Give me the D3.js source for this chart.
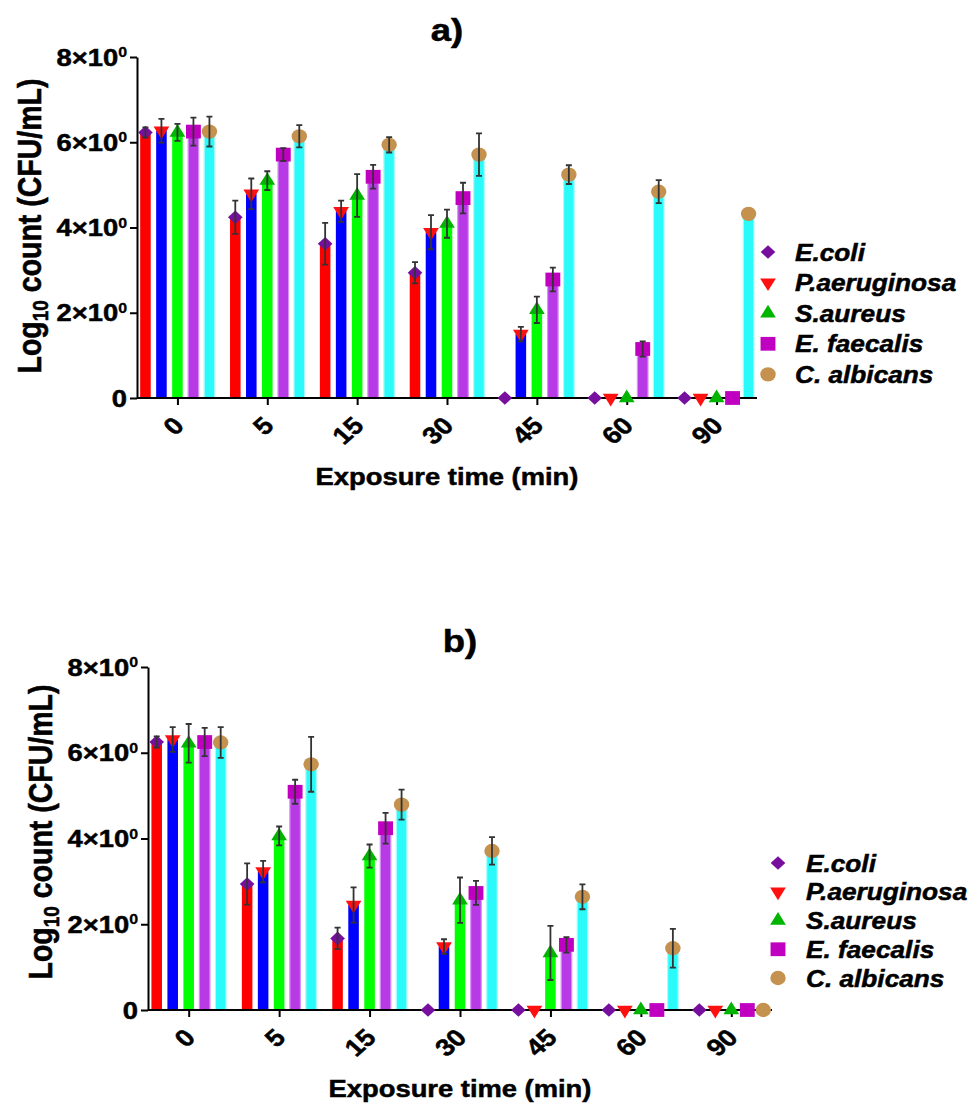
<!DOCTYPE html>
<html>
<head>
<meta charset="utf-8">
<script src="https://cdn.jsdelivr.net/npm/d3@7"></script>
<style>
  body { margin: 0; background: #fff; }
  svg { display: block; }
  text { font-family: "Liberation Sans", Arial, sans-serif; font-weight: bold; fill: #000; stroke: #000; stroke-width: 0.5px; }
</style>
</head>
<body>
<svg id="chart" width="976" height="1105"></svg>
<script>
// Categories
const times = ["0", "5", "15", "30", "45", "60", "90"];
const species = ["E.coli", "P.aeruginosa", "S.aureus", "E. faecalis", "C. albicans"];
const yTickValues = [0, 2, 4, 6, 8];

// Panel a) — mean log10 counts per species over exposure time
const aEcoli      = [6.23, 4.24, 3.62, 2.94, 0,    0,    0];
const aPaeru      = [6.27, 4.79, 4.38, 3.89, 1.50, 0,    0];
const aSaureus    = [6.23, 5.10, 4.75, 4.09, 2.07, 0,    0];
const aEfaecalis  = [6.25, 5.71, 5.19, 4.69, 2.78, 1.15, 0];
const aCalbicans  = [6.25, 6.14, 5.94, 5.71, 5.24, 4.84, 4.32];
// Panel a) — standard deviations
const aEcoliSd     = [0.12, 0.39, 0.49, 0.25, 0,    0,    0];
const aPaeruSd     = [0.28, 0.36, 0.25, 0.40, 0.17, 0,    0];
const aSaureusSd   = [0.20, 0.22, 0.50, 0.33, 0.31, 0,    0];
const aEfaecalisSd = [0.33, 0.15, 0.28, 0.36, 0.28, 0.18, 0];
const aCalbicansSd = [0.35, 0.26, 0.18, 0.50, 0.22, 0.27, 0];

// Panel b) — mean log10 counts
const bEcoli      = [6.25, 2.94, 1.67, 0,    0,    0,    0];
const bPaeru      = [6.31, 3.23, 2.45, 1.48, 0,    0,    0];
const bSaureus    = [6.22, 4.06, 3.59, 2.56, 1.33, 0,    0];
const bEfaecalis  = [6.25, 5.09, 4.24, 2.73, 1.52, 0,    0];
const bCalbicans  = [6.24, 5.73, 4.79, 3.71, 2.64, 1.44, 0];
// Panel b) — standard deviations
const bEcoliSd     = [0.13, 0.48, 0.25, 0,    0,    0,    0];
const bPaeruSd     = [0.29, 0.25, 0.41, 0.17, 0,    0,    0];
const bSaureusSd   = [0.45, 0.22, 0.27, 0.53, 0.63, 0,    0];
const bEfaecalisSd = [0.33, 0.28, 0.36, 0.28, 0.18, 0,    0];
const bCalbicansSd = [0.36, 0.64, 0.35, 0.32, 0.29, 0.45, 0];

// Styling
const barFill    = ["#ff0000", "#0000ff", "#00ff00", "#b83ae6", "#2afafa"];
const barStroke  = ["none", "none", "none", "#d592f3", "#a8fdfd"];
const markerFill = ["#760f9e", "#ff1010", "#00b400", "#c000c0", "#c4914f"];
const markerDefs = [
  { type: d3.symbolSquare,   size: 92,  rot: 45 },
  { type: d3.symbolTriangle, size: 92,  rot: 180 },
  { type: d3.symbolTriangle, size: 92,  rot: 0 },
  { type: d3.symbolSquare,   size: 190, rot: 0 },
  { type: d3.symbolCircle,   size: 160, rot: 0 }
];
const SX = 1.14; // horizontal text stretch

const panels = [
  {
    means: [aEcoli, aPaeru, aSaureus, aEfaecalis, aCalbicans],
    sds: [aEcoliSd, aPaeruSd, aSaureusSd, aEfaecalisSd, aCalbicansSd],
    label: "a)",
    layout: { x0: 137, x1: 757, yTop: 57, yBot: 398, titleX: 447, titleY: 41,
              legX: 768, legTextX: 795, legY0: 252, legStep: 30.6, yTitleX: 41, yTitleY: 226 }
  },
  {
    means: [bEcoli, bPaeru, bSaureus, bEfaecalis, bCalbicans],
    sds: [bEcoliSd, bPaeruSd, bSaureusSd, bEfaecalisSd, bCalbicansSd],
    label: "b)",
    layout: { x0: 148, x1: 772, yTop: 667, yBot: 1010, titleX: 460, titleY: 652,
              legX: 778, legTextX: 806, legY0: 863, legStep: 28.75, yTitleX: 52, yTitleY: 832 }
  }
];

const svg = d3.select("#chart");

function symbolPath(i) {
  return d3.symbol().type(markerDefs[i].type).size(markerDefs[i].size)();
}

panels.forEach(p => {
  const L = p.layout;
  const g = svg.append("g");

  const x = d3.scalePoint().domain(times).range([L.x0, L.x1]).padding(0.45);
  const inner = d3.scaleBand().domain(d3.range(species.length)).range([-40, 40])
    .paddingInner(0.34).paddingOuter(0.17);
  const y = d3.scaleLinear().domain([0, 8]).range([L.yBot, L.yTop]);

  // bars
  species.forEach((s, i) => {
    g.append("g").selectAll("rect")
      .data(p.means[i])
      .join("rect")
      .attr("x", (d, j) => x(times[j]) + inner(i))
      .attr("width", inner.bandwidth())
      .attr("y", d => y(d))
      .attr("height", d => y(0) - y(d))
      .attr("fill", barFill[i])
      .attr("stroke", d => d > 0 ? barStroke[i] : "none")
      .attr("stroke-width", 1.2);
  });

  // y axis
  const yAxis = g.append("g")
    .attr("transform", `translate(${L.x0},0)`)
    .call(d3.axisLeft(y).tickValues(yTickValues).tickSize(7).tickSizeOuter(0).tickFormat(""));
  yAxis.select(".domain").attr("stroke", "#000").attr("stroke-width", 2);
  yAxis.selectAll(".tick line").attr("stroke", "#000").attr("stroke-width", 2);

  yTickValues.forEach(v => {
    const t = g.append("text")
      .attr("transform", `translate(${L.x0 - 10},${y(v) + 8.5}) scale(${SX},1)`)
      .attr("text-anchor", "end")
      .style("font-size", "24px");
    if (v === 0) {
      t.text("0");
    } else {
      t.append("tspan").text(`${v}×10`);
      t.append("tspan").attr("dy", -8.5).style("font-size", "14px").style("stroke-width", "0.3px").text("0");
    }
  });

  // x axis
  const xAxis = g.append("g")
    .attr("transform", `translate(0,${L.yBot})`)
    .call(d3.axisBottom(x).tickSize(7).tickSizeOuter(0).tickFormat(""));
  xAxis.select(".domain").attr("stroke", "#000").attr("stroke-width", 2)
    .attr("d", `M${L.x0},0H${L.x1}`);
  xAxis.selectAll(".tick line").attr("stroke", "#000").attr("stroke-width", 2);

  times.forEach(t => {
    g.append("text")
      .attr("transform", `translate(${x(t) + 8},${L.yBot + 29}) scale(${SX},1) rotate(-45)`)
      .attr("text-anchor", "end")
      .style("font-size", "24px")
      .text(t);
  });

  // markers
  species.forEach((s, i) => {
    g.append("g").selectAll("path")
      .data(p.means[i])
      .join("path")
      .attr("d", symbolPath(i))
      .attr("transform", (d, j) =>
        `translate(${x(times[j]) + inner(i) + inner.bandwidth() / 2},${y(d)}) scale(1.08,1) rotate(${markerDefs[i].rot})`)
      .attr("fill", markerFill[i]);
  });

  // error bars
  species.forEach((s, i) => {
    const eg = g.append("g").attr("stroke", "#333").attr("stroke-width", 1.8).attr("fill", "none");
    p.means[i].forEach((m, j) => {
      const e = p.sds[i][j];
      if (!(e > 0)) return;
      const cx = x(times[j]) + inner(i) + inner.bandwidth() / 2;
      const yHi = y(m + e), yLo = y(m - e);
      eg.append("path").attr("d", `M${cx},${yHi}V${yLo}M${cx - 3},${yHi}H${cx + 3}M${cx - 3},${yLo}H${cx + 3}`);
    });
  });

  // axis titles
  g.append("text")
    .attr("transform", `translate(${(L.x0 + L.x1) / 2},${L.yBot + 87}) scale(${SX},1)`)
    .attr("text-anchor", "middle")
    .style("font-size", "24px")
    .text("Exposure time (min)");

  const yt = g.append("text")
    .attr("transform", `translate(${L.yTitleX},${L.yTitleY}) scale(${SX},1) rotate(-90)`)
    .attr("text-anchor", "middle")
    .style("font-size", "28.5px");
  yt.append("tspan").text("Log");
  yt.append("tspan").attr("dy", 6).style("font-size", "19px").text("10");
  yt.append("tspan").attr("dy", -6).text(" count (CFU/mL)");

  // panel label
  g.append("text")
    .attr("transform", `translate(${L.titleX},${L.titleY}) scale(${SX},1)`)
    .attr("text-anchor", "middle")
    .style("font-size", "32px")
    .text(p.label);

  // legend
  species.forEach((s, i) => {
    const ly = L.legY0 + i * L.legStep;
    g.append("path")
      .attr("d", symbolPath(i))
      .attr("transform", `translate(${L.legX},${ly}) scale(1.08,1) rotate(${markerDefs[i].rot})`)
      .attr("fill", markerFill[i]);
    g.append("text")
      .attr("transform", `translate(${L.legTextX},${ly + 8.5}) scale(${SX},1)`)
      .style("font-size", "23px")
      .style("font-style", "italic")
      .text(s);
  });
});
</script>
</body>
</html>
